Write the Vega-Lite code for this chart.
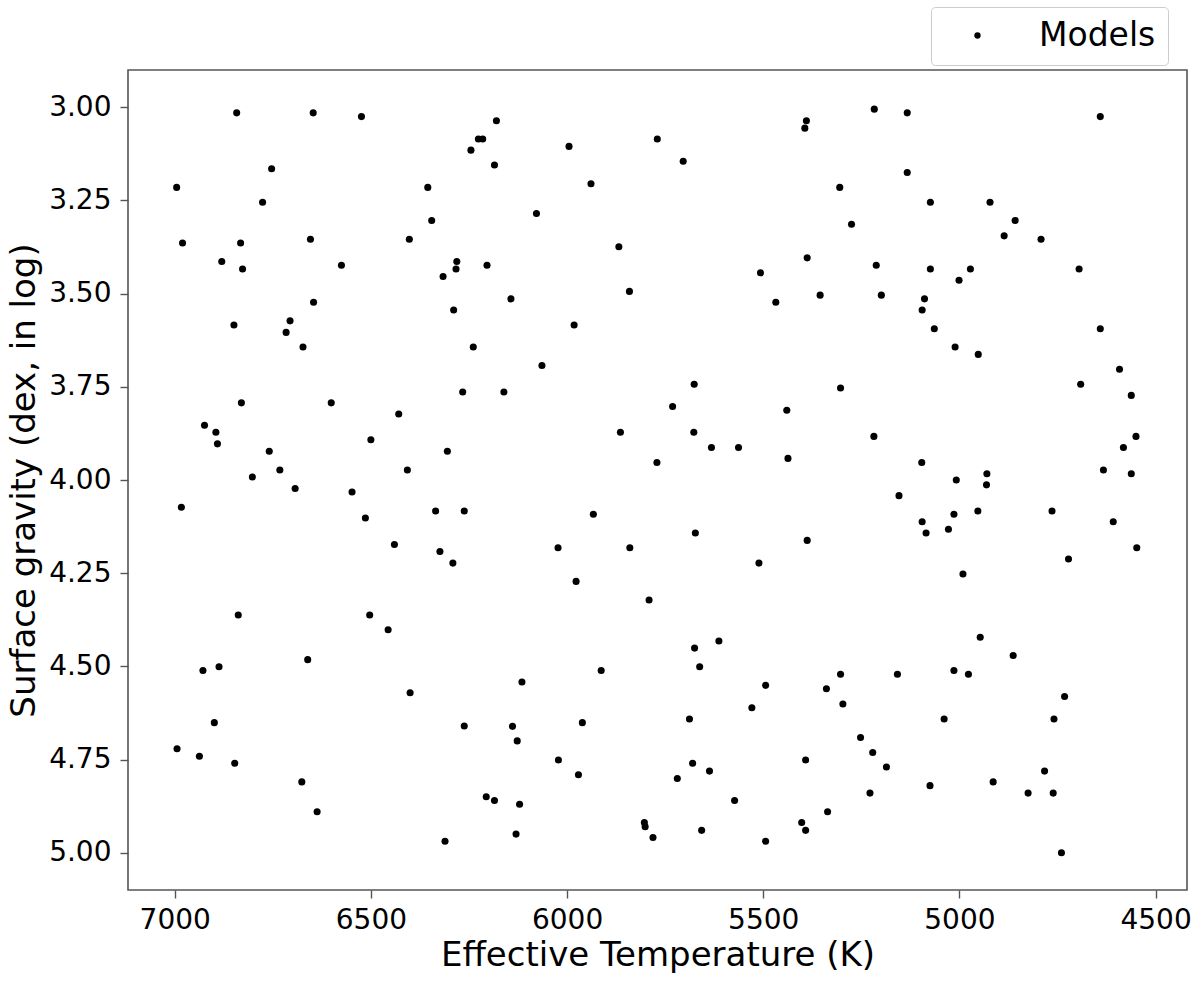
{
  "$schema": "https://vega.github.io/schema/vega-lite/v6.json",
  "width": 1059,
  "height": 820,
  "autosize": {"type": "none"},
  "padding": {"left": 128, "top": 70, "right": 13, "bottom": 92},
  "background": "white",
  "config": {
    "font": "DejaVu Sans",
    "view": {"stroke": "#555555", "strokeWidth": 1.6, "fill": "white"},
    "axis": {
      "grid": false,
      "domain": false,
      "tickColor": "#555555",
      "tickWidth": 1.4,
      "tickSize": 8,
      "labelColor": "black",
      "titleColor": "black",
      "labelFont": "DejaVu Sans",
      "titleFont": "DejaVu Sans",
      "labelFontSize": 28,
      "titleFontSize": 34,
      "titleFontWeight": "normal"
    }
  },
  "data": {
    "values": [
      {"teff": 6842, "logg": 3.015, "series": "Models"},
      {"teff": 6647, "logg": 3.015, "series": "Models"},
      {"teff": 6524, "logg": 3.025, "series": "Models"},
      {"teff": 6226, "logg": 3.085, "series": "Models"},
      {"teff": 6215, "logg": 3.085, "series": "Models"},
      {"teff": 6245, "logg": 3.115, "series": "Models"},
      {"teff": 6753, "logg": 3.165, "series": "Models"},
      {"teff": 6995, "logg": 3.215, "series": "Models"},
      {"teff": 6355, "logg": 3.215, "series": "Models"},
      {"teff": 6776, "logg": 3.255, "series": "Models"},
      {"teff": 6345, "logg": 3.304, "series": "Models"},
      {"teff": 6980, "logg": 3.364, "series": "Models"},
      {"teff": 6832, "logg": 3.364, "series": "Models"},
      {"teff": 6654, "logg": 3.354, "series": "Models"},
      {"teff": 6402, "logg": 3.354, "series": "Models"},
      {"teff": 6880, "logg": 3.414, "series": "Models"},
      {"teff": 6827, "logg": 3.434, "series": "Models"},
      {"teff": 6575, "logg": 3.424, "series": "Models"},
      {"teff": 6281, "logg": 3.414, "series": "Models"},
      {"teff": 6283, "logg": 3.434, "series": "Models"},
      {"teff": 6316, "logg": 3.454, "series": "Models"},
      {"teff": 6204, "logg": 3.424, "series": "Models"},
      {"teff": 6646, "logg": 3.523, "series": "Models"},
      {"teff": 6289, "logg": 3.544, "series": "Models"},
      {"teff": 6849, "logg": 3.584, "series": "Models"},
      {"teff": 6706, "logg": 3.573, "series": "Models"},
      {"teff": 6716, "logg": 3.604, "series": "Models"},
      {"teff": 6673, "logg": 3.643, "series": "Models"},
      {"teff": 6239, "logg": 3.643, "series": "Models"},
      {"teff": 6266, "logg": 3.764, "series": "Models"},
      {"teff": 6830, "logg": 3.793, "series": "Models"},
      {"teff": 6601, "logg": 3.793, "series": "Models"},
      {"teff": 6429, "logg": 3.823, "series": "Models"},
      {"teff": 6924, "logg": 3.853, "series": "Models"},
      {"teff": 6895, "logg": 3.872, "series": "Models"},
      {"teff": 6891, "logg": 3.903, "series": "Models"},
      {"teff": 6500, "logg": 3.892, "series": "Models"},
      {"teff": 6759, "logg": 3.923, "series": "Models"},
      {"teff": 6305, "logg": 3.923, "series": "Models"},
      {"teff": 6732, "logg": 3.973, "series": "Models"},
      {"teff": 6407, "logg": 3.973, "series": "Models"},
      {"teff": 6802, "logg": 3.992, "series": "Models"},
      {"teff": 6693, "logg": 4.023, "series": "Models"},
      {"teff": 6548, "logg": 4.032, "series": "Models"},
      {"teff": 6983, "logg": 4.073, "series": "Models"},
      {"teff": 6514, "logg": 4.102, "series": "Models"},
      {"teff": 6335, "logg": 4.083, "series": "Models"},
      {"teff": 6262, "logg": 4.083, "series": "Models"},
      {"teff": 6440, "logg": 4.173, "series": "Models"},
      {"teff": 6324, "logg": 4.192, "series": "Models"},
      {"teff": 6291, "logg": 4.223, "series": "Models"},
      {"teff": 6838, "logg": 4.362, "series": "Models"},
      {"teff": 6503, "logg": 4.362, "series": "Models"},
      {"teff": 6456, "logg": 4.402, "series": "Models"},
      {"teff": 6661, "logg": 4.482, "series": "Models"},
      {"teff": 6928, "logg": 4.511, "series": "Models"},
      {"teff": 6887, "logg": 4.501, "series": "Models"},
      {"teff": 6400, "logg": 4.571, "series": "Models"},
      {"teff": 6899, "logg": 4.651, "series": "Models"},
      {"teff": 6262, "logg": 4.66, "series": "Models"},
      {"teff": 6994, "logg": 4.721, "series": "Models"},
      {"teff": 6937, "logg": 4.741, "series": "Models"},
      {"teff": 6847, "logg": 4.76, "series": "Models"},
      {"teff": 6676, "logg": 4.81, "series": "Models"},
      {"teff": 6206, "logg": 4.85, "series": "Models"},
      {"teff": 6637, "logg": 4.89, "series": "Models"},
      {"teff": 6311, "logg": 4.969, "series": "Models"},
      {"teff": 6180, "logg": 3.036, "series": "Models"},
      {"teff": 5995, "logg": 3.105, "series": "Models"},
      {"teff": 5770, "logg": 3.085, "series": "Models"},
      {"teff": 6185, "logg": 3.155, "series": "Models"},
      {"teff": 5704, "logg": 3.145, "series": "Models"},
      {"teff": 5939, "logg": 3.205, "series": "Models"},
      {"teff": 5390, "logg": 3.036, "series": "Models"},
      {"teff": 5394, "logg": 3.056, "series": "Models"},
      {"teff": 6078, "logg": 3.285, "series": "Models"},
      {"teff": 5868, "logg": 3.374, "series": "Models"},
      {"teff": 5388, "logg": 3.404, "series": "Models"},
      {"teff": 5507, "logg": 3.444, "series": "Models"},
      {"teff": 5355, "logg": 3.504, "series": "Models"},
      {"teff": 5468, "logg": 3.523, "series": "Models"},
      {"teff": 6143, "logg": 3.514, "series": "Models"},
      {"teff": 5841, "logg": 3.494, "series": "Models"},
      {"teff": 5982, "logg": 3.584, "series": "Models"},
      {"teff": 6064, "logg": 3.693, "series": "Models"},
      {"teff": 6161, "logg": 3.764, "series": "Models"},
      {"teff": 5676, "logg": 3.743, "series": "Models"},
      {"teff": 5731, "logg": 3.803, "series": "Models"},
      {"teff": 5440, "logg": 3.813, "series": "Models"},
      {"teff": 5864, "logg": 3.872, "series": "Models"},
      {"teff": 5677, "logg": 3.872, "series": "Models"},
      {"teff": 5632, "logg": 3.913, "series": "Models"},
      {"teff": 5563, "logg": 3.913, "series": "Models"},
      {"teff": 5771, "logg": 3.953, "series": "Models"},
      {"teff": 5437, "logg": 3.942, "series": "Models"},
      {"teff": 5217, "logg": 3.005, "series": "Models"},
      {"teff": 5133, "logg": 3.015, "series": "Models"},
      {"teff": 4641, "logg": 3.025, "series": "Models"},
      {"teff": 5133, "logg": 3.175, "series": "Models"},
      {"teff": 5305, "logg": 3.215, "series": "Models"},
      {"teff": 5074, "logg": 3.255, "series": "Models"},
      {"teff": 4922, "logg": 3.255, "series": "Models"},
      {"teff": 5275, "logg": 3.314, "series": "Models"},
      {"teff": 4858, "logg": 3.304, "series": "Models"},
      {"teff": 4886, "logg": 3.345, "series": "Models"},
      {"teff": 4792, "logg": 3.354, "series": "Models"},
      {"teff": 5212, "logg": 3.424, "series": "Models"},
      {"teff": 5074, "logg": 3.434, "series": "Models"},
      {"teff": 4972, "logg": 3.434, "series": "Models"},
      {"teff": 4695, "logg": 3.434, "series": "Models"},
      {"teff": 5001, "logg": 3.464, "series": "Models"},
      {"teff": 5199, "logg": 3.504, "series": "Models"},
      {"teff": 5089, "logg": 3.514, "series": "Models"},
      {"teff": 5095, "logg": 3.544, "series": "Models"},
      {"teff": 5064, "logg": 3.594, "series": "Models"},
      {"teff": 4641, "logg": 3.594, "series": "Models"},
      {"teff": 5011, "logg": 3.643, "series": "Models"},
      {"teff": 4952, "logg": 3.663, "series": "Models"},
      {"teff": 4592, "logg": 3.703, "series": "Models"},
      {"teff": 5303, "logg": 3.753, "series": "Models"},
      {"teff": 4691, "logg": 3.743, "series": "Models"},
      {"teff": 4562, "logg": 3.773, "series": "Models"},
      {"teff": 5218, "logg": 3.883, "series": "Models"},
      {"teff": 4550, "logg": 3.883, "series": "Models"},
      {"teff": 4582, "logg": 3.913, "series": "Models"},
      {"teff": 5096, "logg": 3.953, "series": "Models"},
      {"teff": 4930, "logg": 3.983, "series": "Models"},
      {"teff": 4633, "logg": 3.973, "series": "Models"},
      {"teff": 4562, "logg": 3.983, "series": "Models"},
      {"teff": 5008, "logg": 4.0, "series": "Models"},
      {"teff": 4931, "logg": 4.013, "series": "Models"},
      {"teff": 5154, "logg": 4.042, "series": "Models"},
      {"teff": 4953, "logg": 4.083, "series": "Models"},
      {"teff": 5014, "logg": 4.092, "series": "Models"},
      {"teff": 5095, "logg": 4.112, "series": "Models"},
      {"teff": 5085, "logg": 4.142, "series": "Models"},
      {"teff": 5028, "logg": 4.132, "series": "Models"},
      {"teff": 4764, "logg": 4.083, "series": "Models"},
      {"teff": 4608, "logg": 4.112, "series": "Models"},
      {"teff": 4548, "logg": 4.182, "series": "Models"},
      {"teff": 4722, "logg": 4.212, "series": "Models"},
      {"teff": 4991, "logg": 4.252, "series": "Models"},
      {"teff": 4947, "logg": 4.422, "series": "Models"},
      {"teff": 4863, "logg": 4.471, "series": "Models"},
      {"teff": 5303, "logg": 4.521, "series": "Models"},
      {"teff": 5158, "logg": 4.521, "series": "Models"},
      {"teff": 5014, "logg": 4.511, "series": "Models"},
      {"teff": 4977, "logg": 4.521, "series": "Models"},
      {"teff": 5339, "logg": 4.56, "series": "Models"},
      {"teff": 5297, "logg": 4.601, "series": "Models"},
      {"teff": 4732, "logg": 4.581, "series": "Models"},
      {"teff": 5039, "logg": 4.641, "series": "Models"},
      {"teff": 4759, "logg": 4.641, "series": "Models"},
      {"teff": 5252, "logg": 4.691, "series": "Models"},
      {"teff": 5221, "logg": 4.731, "series": "Models"},
      {"teff": 5186, "logg": 4.77, "series": "Models"},
      {"teff": 4783, "logg": 4.781, "series": "Models"},
      {"teff": 5075, "logg": 4.82, "series": "Models"},
      {"teff": 4914, "logg": 4.81, "series": "Models"},
      {"teff": 5228, "logg": 4.84, "series": "Models"},
      {"teff": 4825, "logg": 4.84, "series": "Models"},
      {"teff": 4761, "logg": 4.84, "series": "Models"},
      {"teff": 5336, "logg": 4.89, "series": "Models"},
      {"teff": 4740, "logg": 5.0, "series": "Models"},
      {"teff": 5933, "logg": 4.092, "series": "Models"},
      {"teff": 5673, "logg": 4.142, "series": "Models"},
      {"teff": 5388, "logg": 4.162, "series": "Models"},
      {"teff": 6023, "logg": 4.182, "series": "Models"},
      {"teff": 5840, "logg": 4.182, "series": "Models"},
      {"teff": 5511, "logg": 4.223, "series": "Models"},
      {"teff": 5977, "logg": 4.272, "series": "Models"},
      {"teff": 5791, "logg": 4.322, "series": "Models"},
      {"teff": 5613, "logg": 4.432, "series": "Models"},
      {"teff": 5675, "logg": 4.451, "series": "Models"},
      {"teff": 5662, "logg": 4.501, "series": "Models"},
      {"teff": 5913, "logg": 4.511, "series": "Models"},
      {"teff": 6115, "logg": 4.542, "series": "Models"},
      {"teff": 5494, "logg": 4.551, "series": "Models"},
      {"teff": 5529, "logg": 4.611, "series": "Models"},
      {"teff": 5688, "logg": 4.641, "series": "Models"},
      {"teff": 5961, "logg": 4.651, "series": "Models"},
      {"teff": 6139, "logg": 4.661, "series": "Models"},
      {"teff": 6127, "logg": 4.7, "series": "Models"},
      {"teff": 6022, "logg": 4.751, "series": "Models"},
      {"teff": 5971, "logg": 4.791, "series": "Models"},
      {"teff": 5680, "logg": 4.76, "series": "Models"},
      {"teff": 5637, "logg": 4.781, "series": "Models"},
      {"teff": 5719, "logg": 4.801, "series": "Models"},
      {"teff": 5392, "logg": 4.751, "series": "Models"},
      {"teff": 6185, "logg": 4.86, "series": "Models"},
      {"teff": 6121, "logg": 4.87, "series": "Models"},
      {"teff": 5573, "logg": 4.86, "series": "Models"},
      {"teff": 6130, "logg": 4.95, "series": "Models"},
      {"teff": 5803, "logg": 4.919, "series": "Models"},
      {"teff": 5801, "logg": 4.93, "series": "Models"},
      {"teff": 5781, "logg": 4.959, "series": "Models"},
      {"teff": 5657, "logg": 4.94, "series": "Models"},
      {"teff": 5494, "logg": 4.969, "series": "Models"},
      {"teff": 5402, "logg": 4.919, "series": "Models"},
      {"teff": 5392, "logg": 4.94, "series": "Models"}
    ]
  },
  "mark": {"type": "circle", "size": 50, "opacity": 1},
  "encoding": {
    "x": {
      "field": "teff",
      "type": "quantitative",
      "title": "Effective Temperature (K)",
      "scale": {"domain": [4420, 7119], "reverse": true, "nice": false, "zero": false},
      "axis": {"values": [7000, 6500, 6000, 5500, 5000, 4500], "format": "d", "labelPadding": 8, "titlePadding": 4}
    },
    "y": {
      "field": "logg",
      "type": "quantitative",
      "title": "Surface gravity (dex, in log)",
      "scale": {"domain": [2.9, 5.1], "reverse": true, "nice": false, "zero": false},
      "axis": {"values": [3.0, 3.25, 3.5, 3.75, 4.0, 4.25, 4.5, 4.75, 5.0], "format": ".2f", "labelPadding": 9, "titlePadding": 7}
    },
    "color": {
      "field": "series",
      "type": "nominal",
      "scale": {"range": ["black"]},
      "legend": {
        "title": null,
        "orient": "none",
        "legendX": 803,
        "legendY": -63,
        "padding": 12,
        "strokeColor": "#cccccc",
        "fillColor": "white",
        "cornerRadius": 4,
        "symbolType": "circle",
        "symbolSize": 40,
        "symbolOffset": 18,
        "labelOffset": 45,
        "labelFontSize": 33,
        "labelFont": "DejaVu Sans",
        "labelColor": "black"
      }
    }
  }
}
